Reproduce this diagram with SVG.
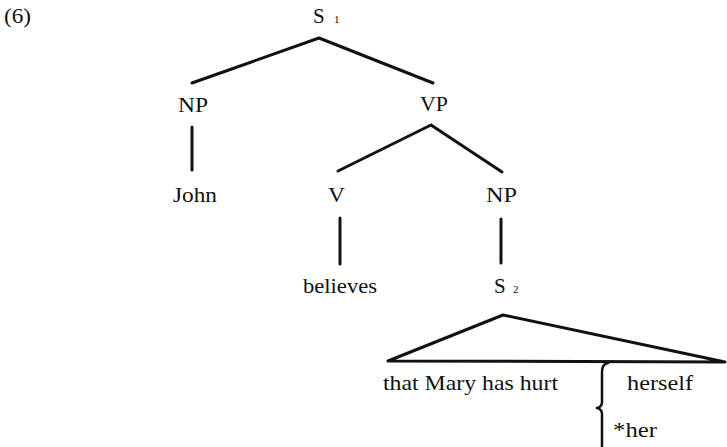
<svg xmlns="http://www.w3.org/2000/svg" width="727" height="447" viewBox="0 0 727 447" font-family="'Liberation Serif', 'Times New Roman', 'DejaVu Serif', serif">
<style>
text{font-family:'Liberation Serif','Times New Roman','DejaVu Serif',serif;font-size:21px;fill:#111}
.sub{font-size:11px}
.e{stroke:#111;stroke-width:3;fill:none;stroke-linecap:round;stroke-linejoin:round}
</style>
<rect width="727" height="447" fill="#fff"/>
<text x="4" y="23" textLength="27" lengthAdjust="spacingAndGlyphs">(6)</text>
<g id="connectors">
<path class="e" d="M319 38 L192 83 M319 38 L433 83"/>
<path class="e" d="M192 127 L192 170"/>
<path class="e" d="M431 125 L338 171 M431 125 L502 172"/>
<path class="e" d="M340 218 L340 264"/>
<path class="e" d="M501 219 L501 263"/>
<path class="e" d="M503 315 L388 361 L725 362 Z"/>
<path class="e" style="stroke-width:2.5" d="M608 363 Q602 364 602 372 L602 402 Q602 407 597 408 Q602 409 602 414 L602 447"/>
</g>
<g id="S1"><text x="313" y="23">S</text><text class="sub" x="334" y="23">1</text></g>
<g id="NP1"><text x="178" y="112" textLength="30" lengthAdjust="spacingAndGlyphs">NP</text></g>
<g id="VP"><text x="420" y="111" textLength="28" lengthAdjust="spacingAndGlyphs">VP</text></g>
<g id="John"><text x="173" y="202" textLength="44" lengthAdjust="spacingAndGlyphs">John</text></g>
<g id="V"><text x="328" y="202" textLength="17" lengthAdjust="spacingAndGlyphs">V</text></g>
<g id="NP2"><text x="486" y="202" textLength="31" lengthAdjust="spacingAndGlyphs">NP</text></g>
<g id="believes"><text x="303" y="293" textLength="74" lengthAdjust="spacingAndGlyphs">believes</text></g>
<g id="S2"><text x="494" y="293">S</text><text class="sub" x="513" y="293">2</text></g>
<g id="S2content">
<text x="383" y="390" textLength="175" lengthAdjust="spacingAndGlyphs">that Mary has hurt</text>
<text x="627" y="390" textLength="66" lengthAdjust="spacingAndGlyphs">herself</text>
<text x="613" y="437" textLength="44" lengthAdjust="spacingAndGlyphs">*her</text>
</g>
</svg>
